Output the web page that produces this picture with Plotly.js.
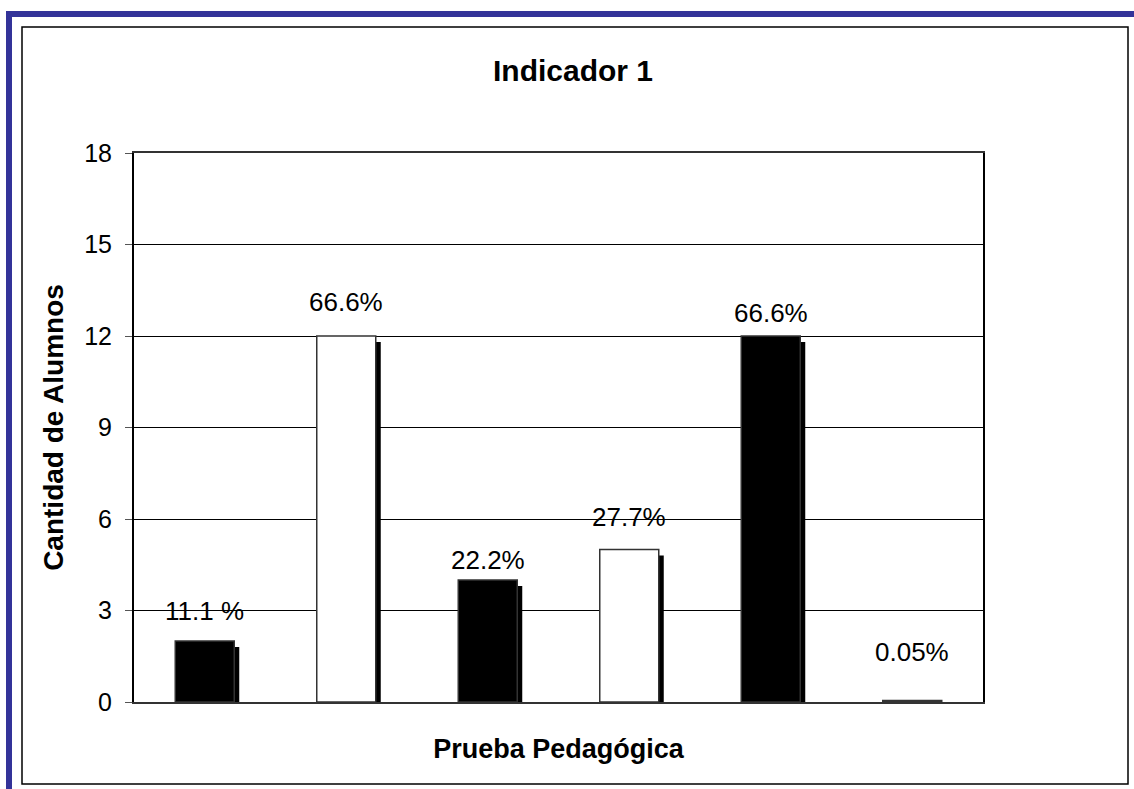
<!DOCTYPE html>
<html>
<head>
<meta charset="utf-8">
<script src="https://cdn.plot.ly/plotly-3.0.1.min.js"></script>
<style>html,body{margin:0;padding:0;background:#fff;}#chart{width:1134px;height:789px;}</style>
</head>
<body>
<div id="chart"></div>
<script>
// ---- data ----
var categories = [1, 2, 3, 4, 5, 6];
var alumnos = [2, 12, 4, 5, 12, 0.05];
var labels = ['11.1 %', '66.6%', '22.2%', '27.7%', '66.6%', '0.05%'];
var labelY = [3.0, 13.1, 4.65, 6.05, 12.75, 1.65];
var yTicks = [0, 3, 6, 9, 12, 15, 18];

// ---- styles ----
var fills = ['#000000', '#ffffff', '#000000', '#ffffff', '#000000', '#000000'];
var W = 1134, H = 789;
var L = 134, R = 983, T = 153, B = 702;
var FONT = 'Arial, "Liberation Sans", sans-serif';
var barW = 0.417;
var pxPerCat = (R - L) / categories.length;
var pxPerUnit = (B - T) / 18;
var shX = 5 / pxPerCat, shY = 6 / pxPerUnit;

function px(x) { return (x - L) / (R - L); }
function py(y) { return (B - y) / (B - T); }

var shadow = {
  type: 'bar', x: categories, y: alumnos,
  base: alumnos.map(function () { return -shY; }),
  width: barW, offset: -barW / 2 + shX,
  marker: { color: '#000', line: { width: 0 } },
  hoverinfo: 'skip', showlegend: false
};
var main = {
  type: 'bar', x: categories, y: alumnos,
  width: barW, offset: -barW / 2,
  marker: { color: fills, line: { color: '#333', width: 1.5 } },
  showlegend: false
};

var annotations = categories.map(function (c, i) {
  return { x: c, y: labelY[i], xref: 'x', yref: 'y', text: labels[i], showarrow: false,
           font: { family: FONT, size: 26, color: '#000' }, xanchor: 'center', yanchor: 'middle' };
});

var shapes = [
  { type: 'rect', xref: 'paper', yref: 'paper', x0: px(22), x1: px(1128), y0: py(27), y1: py(784),
    line: { color: '#000', width: 1.5 }, layer: 'below' },
  { type: 'rect', xref: 'paper', yref: 'paper', x0: px(6), x1: px(12), y0: py(11), y1: py(789),
    fillcolor: '#333399', line: { width: 0 }, layer: 'below' },
  { type: 'rect', xref: 'paper', yref: 'paper', x0: px(6), x1: px(1134), y0: py(11), y1: py(17),
    fillcolor: '#333399', line: { width: 0 }, layer: 'below' }
];

var layout = {
  width: W, height: H,
  margin: { l: L, r: W - R, t: T, b: H - B, pad: 0 },
  paper_bgcolor: '#fff', plot_bgcolor: '#fff',
  barmode: 'overlay',
  title: { text: '<b>Indicador 1</b>', xref: 'container', yref: 'container',
           x: 573 / W, y: 1 - 70 / H, xanchor: 'center', yanchor: 'middle',
           font: { family: FONT, size: 30, color: '#000' } },
  xaxis: {
    range: [0.5, 6.5], showticklabels: false, ticks: '', showgrid: false, zeroline: false,
    showline: true, linecolor: '#333', linewidth: 2, mirror: true,
    title: { text: '<b>Prueba Pedagógica</b>', standoff: 36, font: { family: FONT, size: 27, color: '#000' } }
  },
  yaxis: {
    range: [0, 18], tickvals: yTicks, ticktext: yTicks.map(String),
    ticks: 'outside', ticklen: 7, tickwidth: 1, tickcolor: '#555',
    ticklabelstandoff: 8,
    tickfont: { family: FONT, size: 25, color: '#000' },
    showgrid: true, gridcolor: '#000', gridwidth: 1, zeroline: false,
    showline: true, linecolor: '#000', linewidth: 2, mirror: true,
    title: { text: '<b>Cantidad de Alumnos</b>', standoff: 12, font: { family: FONT, size: 28, color: '#000' } }
  },
  annotations: annotations,
  shapes: shapes
};

Plotly.newPlot('chart', [shadow, main], layout, { displayModeBar: false, staticPlot: true });
</script>
</body>
</html>
